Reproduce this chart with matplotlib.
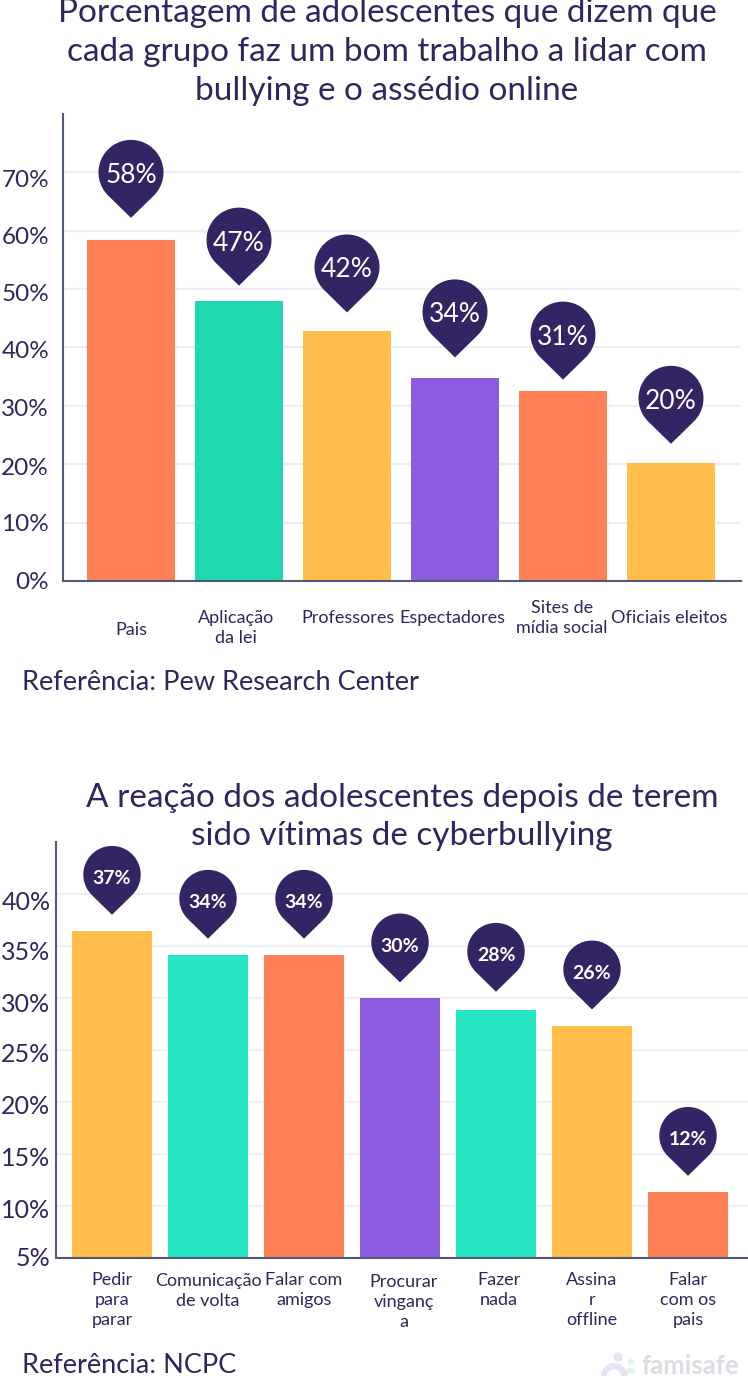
import numpy as np
import matplotlib
matplotlib.use('Agg')
import matplotlib.pyplot as plt
from matplotlib.path import Path
from matplotlib.patches import PathPatch, Circle, Wedge
from matplotlib.transforms import Affine2D, ScaledTranslation

W, H = 748, 1376
INK = '#33245f'
PIN = '#332463'
ORANGE = '#ff7f56'
YELLOW = '#ffbf4a'
PURPLE = '#8d5cde'
TEAL1 = '#20d8ae'
TEAL2 = '#26e5c2'

plt.rcParams['font.family'] = ['Lato', 'DejaVu Sans']

# chart 1
title1 = 'Porcentagem de adolescentes que dizem que\ncada grupo faz um bom trabalho a lidar com\nbullying e o assédio online'
cats1 = ['Pais', 'Aplicação\nda lei', 'Professores', 'Espectadores', 'Sites de\nmídia social', 'Oficiais eleitos']
vals1 = [58.4, 47.9, 42.8, 34.8, 32.5, 20.2]
labels1 = ['58%', '47%', '42%', '34%', '31%', '20%']
tips1 = [62.2, 50.6, 46.0, 38.3, 34.5, 23.5]
colors1 = [ORANGE, TEAL1, YELLOW, PURPLE, ORANGE, YELLOW]
ticks1 = [0, 10, 20, 30, 40, 50, 60, 70]
# label offsets, pixels
dx1 = [0, -3, 1, -3, -1, -2]
dy1 = [-49, -47, -37, -37, -37, -37]
tick_dy1 = [0, 0, 2, 2, 2, 3, 5, 6]

# chart 2
title2 = 'A reação dos adolescentes depois de terem\nsido vítimas de cyberbullying'
cats2 = ['Pedir\npara\nparar', 'Comunicação\nde volta', 'Falar com\namigos', 'Procurar\nvinganç\na', 'Fazer\nnada', 'Assina\nr\noffline', 'Falar\ncom os\npais']
vals2 = [36.4, 34.1, 34.1, 30.0, 28.8, 27.3, 11.3]
labels2 = ['37%', '34%', '34%', '30%', '28%', '26%', '12%']
tips2 = [38.0, 35.7, 35.7, 31.5, 30.6, 28.9, 12.9]
colors2 = [YELLOW, TEAL2, ORANGE, PURPLE, TEAL2, YELLOW, ORANGE]
ticks2 = [5, 10, 15, 20, 25, 30, 35, 40]
dx2 = [0, 0, 0, 4, 3, 0, 0]
dy2 = [-42, -33, -32, -44, -32, -42, -42]
tick_dy2 = [-1, 2, 2, 2, 2, 4, 5, 6]


def pin_path():
    # unit circle + tip 1.4 radius below the centre
    a = 45.6
    arc = Path.arc(-a, 180 + a)
    verts = np.vstack([arc.vertices, [[0, -1.4]], [[0, 0]]])
    codes = list(arc.codes) + [Path.LINETO, Path.CLOSEPOLY]
    return Path(verts, codes)


def draw_chart(fig, box, ylim, band, cats, vals, labels, tips, colors, ticks, tick_dy,
               dx, dy, radius, pin_fs, pin_weight, pin_dy, cat_fs, tick_fs, tick_pad):
    left, top, right, bottom = box
    ax = fig.add_axes([left / W, 1 - bottom / H, (right - left) / W, (bottom - top) / H])
    x = np.arange(len(cats))
    ax.set_xlim(band[0], band[1])
    ax.set_ylim(ylim)
    ax.bar(x, vals, width=band[2], color=colors, zorder=2)
    ax.set_yticks(ticks)
    ax.set_yticklabels([f'{t}%' for t in ticks], fontsize=tick_fs, color=INK)
    ax.set_xticks([])
    ax.tick_params(axis='y', length=0, pad=tick_pad)
    # tick labels do not sit exactly on their grid lines in the source
    for lab, d in zip(ax.get_yticklabels(), tick_dy):
        lab.set_transform(lab.get_transform() + ScaledTranslation(0, -d / 100, fig.dpi_scale_trans))
    ax.grid(axis='y', color='#eeeef5', lw=1.6, zorder=0)
    ax.set_axisbelow(True)
    for s in ['top', 'right']:
        ax.spines[s].set_visible(False)
    for s in ['left', 'bottom']:
        ax.spines[s].set_color('#4e5a78')
        ax.spines[s].set_linewidth(1.5)
    for i in range(len(cats)):
        ax.annotate(cats[i], xy=(i, ylim[0]), xytext=(dx[i], dy[i]), textcoords='offset pixels',
                    ha='center', va='center', fontsize=cat_fs, color=INK, linespacing=1.3)
        # pin is sized in pixels, tip sits on the data position
        tr = Affine2D().translate(0, 1.4).scale(radius) + ScaledTranslation(i, tips[i], ax.transData)
        ax.add_patch(PathPatch(pin_path(), transform=tr, fc=PIN, ec='none', zorder=4, clip_on=False))
        ax.annotate(labels[i], xy=(i, tips[i]), xytext=(0, 1.4 * radius + pin_dy), textcoords='offset pixels',
                    ha='center', va='center', fontsize=pin_fs, color='white',
                    fontweight=pin_weight, zorder=5)
    return ax


fig = plt.figure(figsize=(W / 100, H / 100), dpi=100, facecolor='white')

fig.text(387 / W, 1 - 52 / H, title1, ha='center', va='center', fontsize=24, color=INK, linespacing=1.37)
draw_chart(fig, (63, 114, 741, 581), (0, 80), ((63 - 131) / 108, (741 - 131) / 108, 88 / 108),
           cats1, vals1, labels1, tips1, colors1, ticks1, tick_dy1, dx1, dy1, 32.5, 19, 'normal', -3, 13, 17.5, 10)
fig.text(22 / W, 1 - 683 / H, 'Referência: Pew Research Center', ha='left', va='center', fontsize=19.5, color=INK)

fig.text(402 / W, 1 - 817 / H, title2, ha='center', va='center', fontsize=24, color=INK, linespacing=1.37)
draw_chart(fig, (56, 842, 748, 1258), (5, 45), ((56 - 112) / 96, (748 - 112) / 96, 80 / 96),
           cats2, vals2, labels2, tips2, colors2, ticks2, tick_dy2, dx2, dy2, 28.7, 14, 'bold', -4, 13, 18, 4)
fig.text(22 / W, 1 - 1365.5 / H, 'Referência: NCPC', ha='left', va='center', fontsize=19.5, color=INK)

# famisafe watermark, drawn in picture pixels
px = Affine2D().scale(1, -1).translate(0, H).scale(1 / W, 1 / H) + fig.transFigure
fig.text(642 / W, 1 - 1366 / H, 'famisafe', ha='left', va='center', fontsize=18.5, fontweight='bold', color='#dcdce2')
fig.add_artist(Wedge((631, 1378), 10, 180, 300, width=5, transform=px, fc='#dff5f0', ec='none'))
fig.add_artist(Wedge((614, 1376), 13, 180, 360, width=6, transform=px, fc='#e8e3f7', ec='none'))
fig.add_artist(Circle((618, 1357), 4.5, transform=px, fc='#e8e3f7', ec='none'))
fig.add_artist(Circle((631, 1362), 3, transform=px, fc='#dff5f0', ec='none'))

fig.savefig('out.png', dpi=100)
